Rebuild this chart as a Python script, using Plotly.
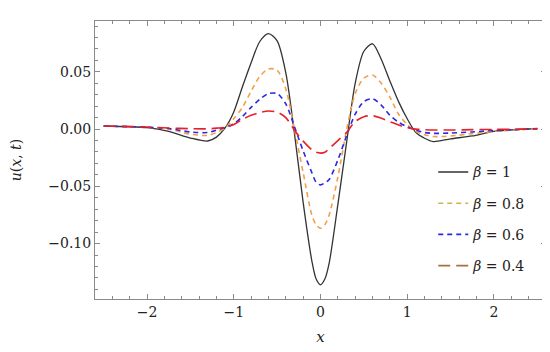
import plotly.graph_objects as go

# shared x grid
x_vals = [-2.5, -2.0, -1.75, -1.5, -1.3, -1.2, -1.1, -1.0, -0.9, -0.8, -0.7, -0.6, -0.5, -0.4, -0.3, -0.2, -0.1,
          -0.05, 0.0, 0.05, 0.1, 0.2, 0.3, 0.4, 0.5, 0.6, 0.7, 0.8, 0.9, 1.0, 1.1, 1.2, 1.3, 1.5, 1.75, 2.0, 2.5]

u_beta_1 = [0.0027, 0.0012, -0.002, -0.0078, -0.0104, -0.007, 0.001, 0.015, 0.037, 0.058, 0.0765, 0.0834, 0.077,
            0.049, -0.004, -0.064, -0.115, -0.131, -0.136, -0.131, -0.117, -0.066, -0.012, 0.040, 0.068, 0.0745,
            0.061, 0.042, 0.024, 0.009, -0.003, -0.008, -0.0109, -0.0085, -0.006, -0.002, 0.0005]
u_beta_08 = [0.0027, 0.0015, 0.0, -0.0045, -0.0055, -0.003, 0.001, 0.009, 0.019, 0.033, 0.046, 0.0525, 0.0515,
             0.035, 0.0, -0.038, -0.075, -0.0835, -0.0866, -0.0835, -0.075, -0.042, -0.001, 0.031, 0.0445, 0.0472,
             0.040, 0.028, 0.013, 0.004, -0.002, -0.005, -0.0065, -0.006, -0.004, -0.002, 0.0003]
u_beta_06 = [0.0027, 0.0016, 0.0005, -0.0025, -0.003, -0.001, 0.0015, 0.0045, 0.011, 0.019, 0.026, 0.031, 0.031,
             0.022, 0.002, -0.019, -0.038, -0.0465, -0.0487, -0.047, -0.044, -0.027, -0.006, 0.013, 0.024, 0.0265,
             0.021, 0.012, 0.006, 0.002, -0.001, -0.003, -0.0037, -0.0035, -0.0025, -0.0012, 0.0002]
u_beta_04 = [0.0027, 0.0018, 0.001, 0.0003, 0.0002, 0.0008, 0.0015, 0.004, 0.0085, 0.012, 0.0145, 0.0158, 0.0148,
             0.010, -0.001, -0.0105, -0.018, -0.0203, -0.021, -0.0203, -0.017, -0.010, -0.003, 0.0065, 0.0108,
             0.0117, 0.0095, 0.0065, 0.0035, 0.0012, 0.0, -0.0005, -0.0008, -0.0008, -0.0005, -0.0003, 0.0]

series_names = ["<i>β</i> = 1", "<i>β</i> = 0.8", "<i>β</i> = 0.6", "<i>β</i> = 0.4"]
series_values = [u_beta_1, u_beta_08, u_beta_06, u_beta_04]
line_colors = ["#333333", "#f0a04a", "#2a2ae0", "#e8202a"]
legend_colors = ["#333333", "#cdb54c", "#2a2ae0", "#a8703a"]
line_dashes = ["solid", "5px,4px", "5px,4px", "12px,6px"]
line_widths = [1.3, 1.6, 1.6, 1.6]

x_ticks = [-2, -1, 0, 1, 2]
y_ticks = [-0.10, -0.05, 0.00, 0.05]

FONT = "DejaVu Serif"

fig = go.Figure()
for name, vals, col, dash, w in zip(series_names, series_values, line_colors, line_dashes, line_widths):
    fig.add_trace(go.Scatter(x=x_vals, y=vals, mode="lines", showlegend=False,
                             line=dict(color=col, dash=dash, width=w, shape="spline", smoothing=0.8)))
for i, (name, col, dash, w) in enumerate(zip(series_names, legend_colors, line_dashes, line_widths)):
    fig.add_trace(go.Scatter(x=[None], y=[None], mode="lines", name=name, legendgroup=f"g{i}",
                             line=dict(color=col, dash=dash, width=w)))

axis_common = dict(showline=True, linecolor="#8a8a8a", linewidth=1, mirror="ticks",
                   ticks="inside", ticklen=5, tickcolor="#8a8a8a", tickwidth=1,
                   showgrid=False, zeroline=False,
                   tickfont=dict(family=FONT, size=14, color="#222222"))

fig.update_xaxes(range=[-2.6, 2.6], tickvals=x_ticks,
                 minor=dict(ticks="inside", ticklen=3, dtick=0.2, tickcolor="#8a8a8a", showgrid=False),
                 title=dict(text="<i>x</i>", font=dict(family=FONT, size=15, color="#222222"), standoff=12),
                 **axis_common)
fig.update_yaxes(range=[-0.1484, 0.0944], tickvals=y_ticks, tickformat=".2f",
                 minor=dict(ticks="inside", ticklen=3, dtick=0.01, tickcolor="#8a8a8a", showgrid=False),
                 title=dict(text="<i>u</i>(<i>x</i>, <i>t</i>)", font=dict(family=FONT, size=14, color="#222222"), standoff=24),
                 **axis_common)

fig.update_layout(
    width=550, height=352,
    margin=dict(l=87, r=12, t=13, b=61, autoexpand=False),
    paper_bgcolor="white", plot_bgcolor="white",
    showlegend=True,
    legend=dict(x=0.75, y=0.513, xanchor="left", yanchor="top", bgcolor="rgba(0,0,0,0)",
                traceorder="grouped", tracegroupgap=10,
                font=dict(family=FONT, size=14, color="#222222")),
)

fig.write_html("out.html")
